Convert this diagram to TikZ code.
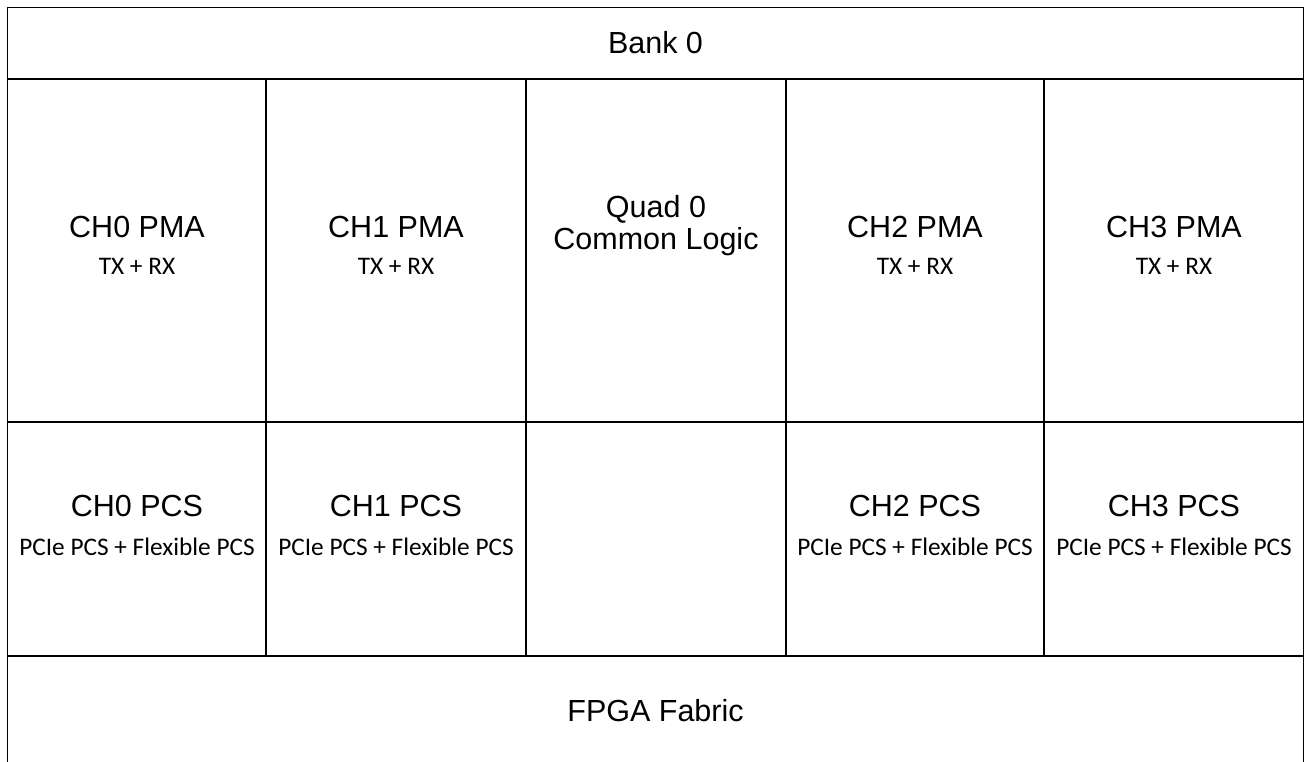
\documentclass[tikz,border=0pt]{standalone}
\usepackage{fontspec}
\setmainfont{Liberation Sans}
\newfontfamily\calfont{Carlito}
\begin{document}
\begin{tikzpicture}[x=1pt,y=-1pt,
  gridline/.style={line width=1.9pt,black},
  bigtext/.style={anchor=base,inner sep=0pt,font=\fontsize{30.5}{35}\selectfont},
  smalltext/.style={anchor=base,inner sep=0pt,font=\calfont\fontsize{25.3}{30}\selectfont}]
\useasboundingbox (0,0) rectangle (1306,761);
\clip (0,0) rectangle (1306,761);
\fill[white] (0,0) rectangle (1306,761);
% outer frame and grid
\draw[gridline] (7.5,780) -- (7.5,7.5) -- (1303.5,7.5) -- (1303.5,780);
\draw[gridline] (7.5,79) -- (1303.5,79);
\draw[gridline] (7.5,422) -- (1303.5,422);
\draw[gridline] (7.5,656) -- (1303.5,656);
\foreach \cx in {266,526,786,1044} {
  \draw[gridline] (\cx,79) -- (\cx,656);
}
% texts
\node[bigtext] (bank) at (655.5,53) {Bank 0};
\node[bigtext] (fabric) at (655.5,721) {FPGA Fabric};

\node[bigtext] (pma0) at (137,237) {CH0 PMA};
\node[smalltext] (pma0s) at (137,274) {TX + RX};
\node[bigtext] (pma1) at (396,237) {CH1 PMA};
\node[smalltext] (pma1s) at (396,274) {TX + RX};
\node[bigtext] (quad) at (656,217) {Quad 0};
\node[bigtext] (common) at (656,249) {Common Logic};
\node[bigtext] (pma2) at (915,237) {CH2 PMA};
\node[smalltext] (pma2s) at (915,274) {TX + RX};
\node[bigtext] (pma3) at (1174,237) {CH3 PMA};
\node[smalltext] (pma3s) at (1174,274) {TX + RX};

\node[bigtext] (pcs0) at (137,516) {CH0 PCS};
\node[smalltext] (pcs0s) at (137,555) {PCIe PCS + Flexible PCS};
\node[bigtext] (pcs1) at (396,516) {CH1 PCS};
\node[smalltext] (pcs1s) at (396,555) {PCIe PCS + Flexible PCS};
\node[bigtext] (pcs2) at (915,516) {CH2 PCS};
\node[smalltext] (pcs2s) at (915,555) {PCIe PCS + Flexible PCS};
\node[bigtext] (pcs3) at (1174,516) {CH3 PCS};
\node[smalltext] (pcs3s) at (1174,555) {PCIe PCS + Flexible PCS};
\end{tikzpicture}
\end{document}
